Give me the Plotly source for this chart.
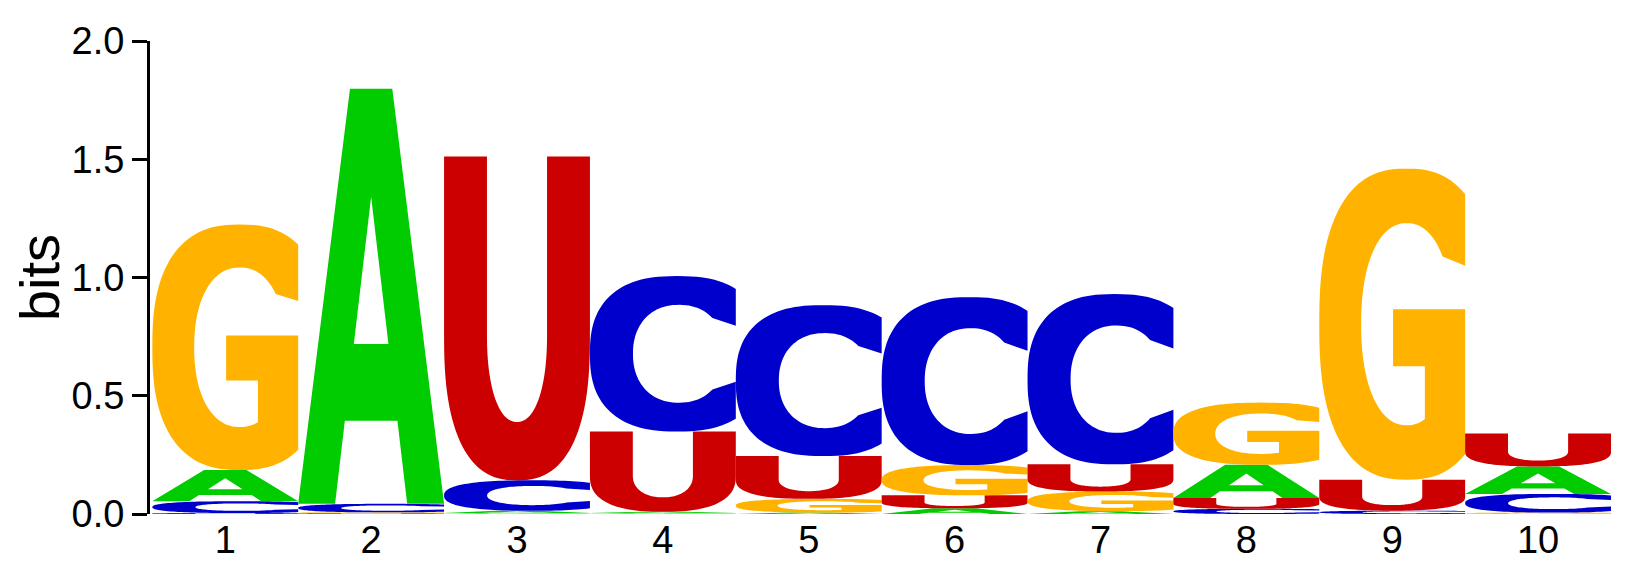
import numpy as np
import plotly.graph_objects as go

# sequence logo, 10 positions, heights in bits
positions = list(range(1, 11))
bits_A = [0.132, 1.755, 0.0096, 0.0055, 0.006, 0.024, 0.012, 0.140, 0.0, 0.116]
bits_C = [0.050, 0.036, 0.129, 0.657, 0.638, 0.710, 0.720, 0.022, 0.014, 0.079]
bits_G = [1.038, 0.004, 0.004, 0.004, 0.058, 0.128, 0.083, 0.263, 1.315, 0.006]
bits_U = [0.004, 0.003, 1.369, 0.3395, 0.181, 0.055, 0.115, 0.046, 0.131, 0.139]
tick_vals = [0, 0.5, 1.0, 1.5, 2.0]
tick_text = ["0.0", "0.5", "1.0", "1.5", "2.0"]

colors = {"A": "#00CC00", "C": "#0000CC", "G": "#FFB300", "U": "#CC0000"}


def arc(cx, cy, rx, ry, n, t0, t1, num=60):
    t = np.linspace(t0, t1, num)
    c, s = np.cos(t), np.sin(t)
    x = cx + rx * np.sign(c) * np.abs(c) ** (2 / n)
    y = cy + ry * np.sign(s) * np.abs(s) ** (2 / n)
    return list(zip(x, y))


def glyph(letter):
    # outlines in a unit box, list of rings
    if letter == "A":
        def xl(y):
            return 0.253 + (0.5 - 0.253) * y / 0.74
        outer = [(0, 0), (0.355, 1), (0.645, 1), (1, 0), (0.747, 0),
                 (1 - xl(0.2), 0.2), (xl(0.2), 0.2), (0.253, 0)]
        hole = [(xl(0.385), 0.385), (0.5, 0.74), (1 - xl(0.385), 0.385)]
        return [outer, hole]
    if letter == "U":
        pts = [(0, 1), (0.294, 1), (0.294, 0.45)]
        pts += arc(0.5, 0.45, 0.206, 0.27, 2.2, np.pi, 2 * np.pi)
        pts += [(0.706, 1), (1, 1), (1, 0.45)]
        pts += arc(0.5, 0.45, 0.5, 0.45, 2.5, 2 * np.pi, np.pi)
        return [pts]
    # C and G share the round outer body
    to = np.arccos(((1 - 0.6) / 0.6) ** (2.5 / 2))
    outer = arc(0.6, 0.5, 0.6, 0.5, 2.5, to, 2 * np.pi - to, 90)
    if letter == "C":
        ti = np.radians(45)
        pts = outer + [(1, 0.32)]
        pts += arc(0.61, 0.5, 0.315, 0.315, 2.2, 2 * np.pi - ti, ti, 80)
        pts += [(1, 0.68)]
        return [pts]
    # G
    tb = np.arccos(((0.724 - 0.6) / 0.313) ** (2.2 / 2))
    pts = outer + [(1, 0.548), (0.506, 0.548), (0.506, 0.365), (0.724, 0.365)]
    pts += arc(0.6, 0.5, 0.313, 0.325, 2.2, 2 * np.pi - tb, np.radians(40), 80)
    pts += [(1, 0.688)]
    return [pts]


fig = go.Figure()
fig.add_trace(go.Scatter(x=positions, y=[0] * len(positions), mode="markers",
                         marker=dict(opacity=0), hoverinfo="skip", showlegend=False))

heights = {"A": bits_A, "C": bits_C, "G": bits_G, "U": bits_U}
for i, pos in enumerate(positions):
    stack = sorted(["A", "C", "G", "U"], key=lambda k: heights[k][i])
    base = 0.0
    for letter in stack:
        h = heights[letter][i]
        if h <= 0:
            continue
        path = ""
        for ring in glyph(letter):
            pts = [(pos - 0.5 + x, base + y * h) for x, y in ring]
            path += "M " + " L ".join(f"{x:.5f},{y:.6f}" for x, y in pts) + " Z "
        fig.add_shape(type="path", path=path, xref="x", yref="y",
                      fillcolor=colors[letter], fillrule="evenodd",
                      line=dict(width=0), layer="above")
        base += h

font = "Liberation Sans, Arial, sans-serif"
fig.update_layout(
    width=1630, height=565,
    margin=dict(l=142, r=27, t=18, b=45),
    plot_bgcolor="white", paper_bgcolor="white",
    font=dict(family=font, size=38, color="black"),
    showlegend=False,
    xaxis=dict(range=[0.484, 10.5], tickvals=positions, ticktext=[str(p) for p in positions],
               showgrid=False, zeroline=False, showline=False, ticks="",
               tickfont=dict(size=38)),
    yaxis=dict(range=[0, 2], tickvals=tick_vals, ticktext=tick_text,
               showgrid=False, zeroline=False, showline=True, linecolor="black",
               linewidth=3, ticks="outside", ticklen=15, tickwidth=3, tickcolor="black",
               tickfont=dict(size=38), ticklabeloverflow="allow",
               title=dict(text="bits", font=dict(size=56), standoff=12)),
)

fig.write_html("out.html")
